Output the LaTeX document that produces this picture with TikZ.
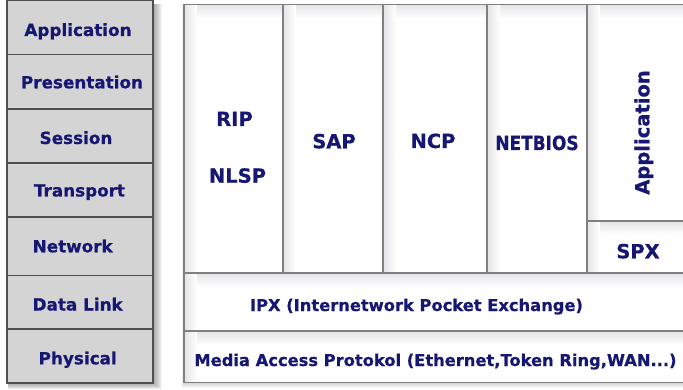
\documentclass[tikz,border=0pt]{standalone}
\usepackage{fontspec}
\newfontfamily\vfont[FakeBold=0.6]{DejaVu Sans Bold}
\definecolor{navy}{RGB}{22,22,115}
\definecolor{osigray}{RGB}{212,212,212}
\definecolor{osiedge}{RGB}{78,78,78}
\definecolor{celledge}{RGB}{128,128,128}
\definecolor{cellshade}{RGB}{228,228,232}
\newcommand{\cellsh}[4]{%
  \shade[top color=cellshade,bottom color=white] (#1,#2) rectangle (#3,#2+14);
  \shade[left color=cellshade,right color=white] (#1,#2) rectangle (#1+13,#4);
}
\begin{document}
\begin{tikzpicture}[x=1pt,y=-1pt,
  ositxt/.style={text=navy,font=\vfont\fontsize{16.8}{20}\selectfont,inner sep=0pt,anchor=base},
  protxt/.style={text=navy,font=\vfont\fontsize{19.5}{22}\selectfont,inner sep=0pt,anchor=base},
  widetxt/.style={text=navy,font=\vfont\fontsize{16.3}{20}\selectfont,inner sep=0pt,anchor=base},
  osibox/.style={draw=osiedge,line width=1.5pt,fill=osigray},
  cellline/.style={draw=celledge,line width=1.6pt}]
\useasboundingbox (0,0) rectangle (683,390);
\clip (0,0) rectangle (683,390);
\fill[white] (0,0) rectangle (683,390);
% shadow of OSI column
\foreach \i in {1,...,9} \fill[black,opacity=0.045] (8,4) rectangle (153+\i,383+\i*0.7);
% OSI column
\foreach \a/\b in {0.5/54.5,54.5/109,109/163,163/217,217/275.5,275.5/329,329/383}
  \draw[osibox] (7,\a) rectangle (153,\b);
\node[ositxt] (app)  at (78,36)    {Application};
\node[ositxt] (pres) at (82,88.3)  {Presentation};
\node[ositxt] (sess) at (76,144)   {Session};
\node[ositxt] (tran) at (79.5,196.5) {Transport};
\node[ositxt] (netw) at (72.7,252.3) {Network};
\node[ositxt] (dlnk) at (77.7,310.5) {Data Link};
\node[ositxt] (phys) at (77.7,364.3) {Physical};
% shadow of protocol block
\foreach \i in {1,...,5} \fill[black,opacity=0.03] (184-\i*0.4,6) rectangle (690,382.5+\i);
\fill[white] (184,4.5) rectangle (690,382.5);
% cell shading
\cellsh{184}{4.5}{283}{273}
\cellsh{283}{4.5}{383}{273}
\cellsh{383}{4.5}{487}{273}
\cellsh{487}{4.5}{587}{273}
\cellsh{587}{4.5}{690}{221}
\cellsh{587}{221}{690}{273}
\cellsh{184}{273}{690}{331}
\cellsh{184}{331}{690}{382.5}
% cell lines
\draw[cellline] (690,4.5) -- (184,4.5) -- (184,382.5) -- (690,382.5);
\draw[cellline] (184,273) -- (690,273);
\draw[cellline] (184,331) -- (690,331);
\foreach \x in {283,383,487,587} \draw[cellline] (\x,4.5) -- (\x,273);
\draw[cellline] (587,221) -- (690,221);
% protocol labels
\node[protxt] (rip)  at (234.5,126)  {RIP};
\node[protxt] (nlsp) at (237.5,182.7) {NLSP};
\node[protxt] (sap)  at (334,148.3)  {SAP};
\node[protxt] (ncp)  at (433,148)    {NCP};
\node[protxt] (nbios) at (537,150)   {\scalebox{0.87}[1]{NETBIOS}};
\node[protxt,rotate=90] (appl) at (649.3,132.5) {Application};
\node[protxt] (spx)  at (638,258.3)  {SPX};
\node[widetxt] (ipx) at (416.5,311) {IPX (Internetwork Pocket Exchange)};
\node[widetxt] (mac) at (435.5,366) {Media Access Protokol (Ethernet,Token Ring,WAN...)};
\end{tikzpicture}
\end{document}
